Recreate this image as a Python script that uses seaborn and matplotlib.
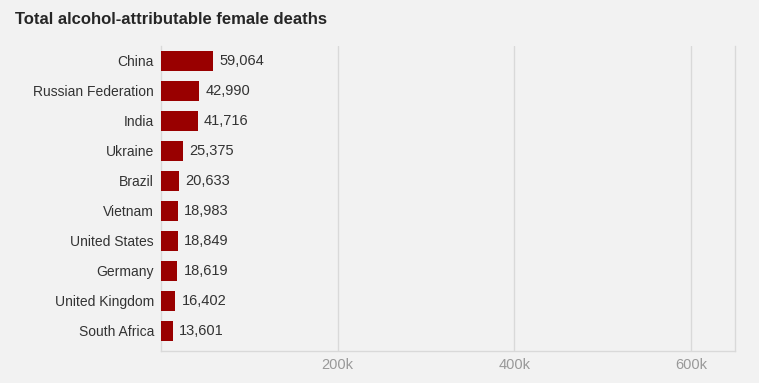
import pandas as pd
import seaborn as sns
import matplotlib.pyplot as plt
from matplotlib.ticker import FuncFormatter

countries = ["China", "Russian Federation", "India", "Ukraine", "Brazil",
             "Vietnam", "United States", "Germany", "United Kingdom", "South Africa"]
deaths = [59064, 42990, 41716, 25375, 20633, 18983, 18849, 18619, 16402, 13601]

df = pd.DataFrame({"country": countries, "deaths": deaths})

sns.set_style("white")
plt.rcParams['font.family'] = ['Liberation Sans', 'DejaVu Sans']

bg = "#f2f2f2"
fig = plt.figure(figsize=(7.59, 3.83), dpi=100, facecolor=bg)
ax = fig.add_axes([0.2121, 0.0836, 0.7563, 0.7963])
ax.set_facecolor(bg)

sns.barplot(data=df, x="deaths", y="country", color="#990000", saturation=1,
            width=0.68, linewidth=0, ax=ax, zorder=3)

for i, v in enumerate(deaths):
    ax.text(v + 7000, i, f"{v:,}", va="center", ha="left", fontsize=10.5, color="#333333")

ax.set_xlim(0, 650000)
ax.set_ylim(len(countries) - 0.5 + 0.17, -0.5)
ax.set_xticks([200000, 400000, 600000])
ax.xaxis.set_major_formatter(FuncFormatter(lambda x, p: f"{int(x/1000)}k"))
ax.grid(axis="x", color="#d9d9d9", linewidth=1, zorder=0)
ax.tick_params(axis="x", length=0, labelsize=10.5, labelcolor="#999999", pad=5)
ax.tick_params(axis="y", length=0, labelsize=10, labelcolor="#333333", pad=5)
ax.set_xlabel("")
ax.set_ylabel("")
for side in ["left", "bottom", "right"]:
    ax.spines[side].set_color("#d9d9d9")
    ax.spines[side].set_linewidth(1)
ax.spines["top"].set_visible(False)

fig.text(15 / 759, 1 - 19 / 383, "Total alcohol-attributable female deaths",
         fontsize=12, fontweight="bold", color="#262626", va="center", ha="left")

fig.savefig("out.png", dpi=100, facecolor=bg)
